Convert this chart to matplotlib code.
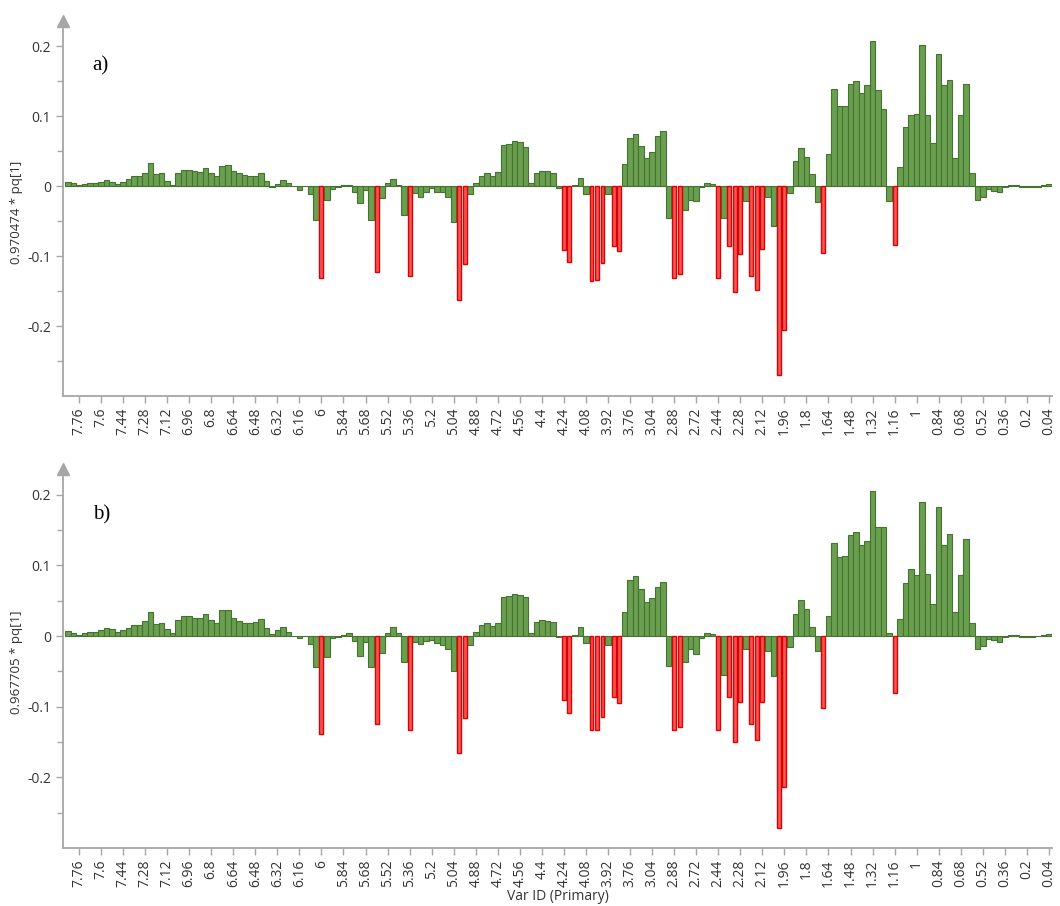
import numpy as np
import matplotlib
matplotlib.use("Agg")
import matplotlib.pyplot as plt
from matplotlib.transforms import offset_copy

# chemical shift of each variable (ppm), two excluded regions in between
ppm = np.concatenate([np.arange(784, 372, -4), [372, 368, 308],
                      np.arange(304, 268, -4), [268, 264, 248],
                      np.arange(244, 0, -4)]) / 100.0

# variables drawn in red (significant)
significant = [6.00, 5.60, 5.36, 5.00, 4.96, 4.24, 4.20, 4.04, 4.00, 3.96,
               3.88, 3.84, 2.88, 2.84, 2.44, 2.36, 2.32, 2.28, 2.20, 2.16,
               2.12, 2.00, 1.96, 1.68, 1.16]

pq_a = [0.006, 0.004, 0.001, 0.003, 0.005, 0.004, 0.006, 0.008, 0.006, 0.003,
        0.006, 0.010, 0.014, 0.015, 0.019, 0.033, 0.017, 0.018, 0.007, 0.001,
        0.019, 0.023, 0.023, 0.022, 0.020, 0.026, 0.018, 0.014, 0.028, 0.030,
        0.022, 0.019, 0.016, 0.014, 0.015, 0.018, 0.007, -0.001, 0.003, 0.008,
        0.004, 0.0005, -0.005, 0.0, -0.012, -0.048, -0.132, -0.020, -0.004, -0.001,
        0.001, 0.002, -0.009, -0.024, -0.005, -0.048, -0.123, -0.017, 0.005, 0.010,
        0.002, -0.042, -0.129, -0.010, -0.015, -0.008, -0.003, -0.009, -0.009, -0.015,
        -0.052, -0.163, -0.112, -0.011, 0.004, 0.015, 0.018, 0.014, 0.020, 0.058,
        0.060, 0.064, 0.063, 0.056, 0.004, 0.019, 0.022, 0.021, 0.018, -0.003,
        -0.092, -0.108, 0.001, 0.011, -0.012, -0.135, -0.134, -0.110, -0.011, -0.086,
        -0.093, 0.031, 0.068, 0.074, 0.057, 0.040, 0.048, 0.071, 0.079, -0.045,
        -0.132, -0.126, -0.034, -0.020, -0.022, -0.002, 0.005, 0.003, -0.131, -0.046,
        -0.085, -0.151, -0.097, -0.022, -0.129, -0.149, -0.090, -0.015, -0.057, -0.270,
        -0.206, -0.010, 0.036, 0.054, 0.041, 0.017, -0.023, -0.095, 0.046, 0.139,
        0.114, 0.114, 0.146, 0.150, 0.133, 0.145, 0.207, 0.137, 0.110, -0.022,
        -0.084, 0.027, 0.084, 0.102, 0.103, 0.202, 0.101, 0.062, 0.188, 0.145,
        0.152, 0.040, 0.101, 0.146, 0.019, -0.020, -0.016, -0.004, -0.007, -0.009,
        -0.001, 0.0015, 0.001, -0.002, -0.002, -0.0015, -0.001, 0.002, 0.003]

pq_b = [0.007, 0.005, 0.0015, 0.004, 0.0065, 0.0065, 0.009, 0.012, 0.010, 0.006,
        0.0085, 0.012, 0.0155, 0.0155, 0.021, 0.034, 0.0175, 0.019, 0.010, 0.004,
        0.023, 0.028, 0.028, 0.026, 0.025, 0.032, 0.023, 0.019, 0.037, 0.037,
        0.026, 0.022, 0.019, 0.018, 0.020, 0.024, 0.011, 0.003, 0.0085, 0.013,
        0.0055, 0.0005, -0.002, -0.0005, -0.011, -0.044, -0.138, -0.029, -0.003, -0.001,
        0.0015, 0.004, -0.0075, -0.028, -0.0085, -0.044, -0.125, -0.024, 0.005, 0.013,
        0.004, -0.037, -0.133, -0.009, -0.011, -0.0075, -0.005, -0.010, -0.012, -0.018,
        -0.050, -0.166, -0.116, -0.012, 0.006, 0.016, 0.018, 0.014, 0.019, 0.056,
        0.0575, 0.060, 0.0585, 0.055, 0.004, 0.020, 0.0225, 0.022, 0.020, -0.0015,
        -0.090, -0.109, 0.002, 0.013, -0.010, -0.1325, -0.133, -0.115, -0.012, -0.086,
        -0.095, 0.034, 0.080, 0.085, 0.0665, 0.0485, 0.054, 0.069, 0.077, -0.043,
        -0.1325, -0.128, -0.037, -0.018, -0.025, -0.003, 0.004, 0.0025, -0.1325, -0.055,
        -0.086, -0.150, -0.093, -0.018, -0.125, -0.147, -0.093, -0.021, -0.057, -0.271,
        -0.214, -0.0155, 0.032, 0.051, 0.039, 0.0135, -0.021, -0.102, 0.029, 0.132,
        0.112, 0.114, 0.143, 0.148, 0.129, 0.135, 0.205, 0.155, 0.154, 0.005,
        -0.081, 0.024, 0.075, 0.095, 0.087, 0.190, 0.088, 0.046, 0.1825, 0.129,
        0.144, 0.0335, 0.086, 0.138, 0.019, -0.018, -0.0135, -0.004, -0.006, -0.0085,
        -0.001, 0.002, 0.0015, -0.0015, -0.0015, -0.001, -0.0005, 0.0015, 0.003]

panels = [("a)", "0.970474 * pq[1]", pq_a), ("b)", "0.967705 * pq[1]", pq_b)]

GREEN = "#6a9f50"
GREEN_EDGE = "#44732f"
RED = "#f05656"
RED_EDGE = "#e00000"
AXIS = "#a6a6a6"
TEXT = "#333333"
FONT = "Open Sans"

fig = plt.figure(figsize=(10.6, 9.06), dpi=100)
rects = [[0.0594, 0.5629, 0.9330, 0.4056], [0.0594, 0.0640, 0.9330, 0.4093]]

x = np.arange(len(ppm))
sig = np.isin(np.round(ppm, 2), np.round(significant, 2))
tick_idx = x[2::4]
tick_lab = ["{:g}".format(round(v, 2)) for v in ppm[2::4]]

for k, (tag, ylab, vals) in enumerate(panels):
    ax = fig.add_axes(rects[k])
    vals = np.array(vals)
    ax.bar(x[~sig], vals[~sig], width=1.0, color=GREEN, edgecolor=GREEN_EDGE,
           linewidth=0.8, zorder=2)
    ax.bar(x[sig], vals[sig], width=0.72, color=RED, edgecolor=RED_EDGE,
           linewidth=1.0, zorder=3)

    ax.set_xlim(-0.9, len(ppm) - 0.45)
    ax.set_ylim(-0.30, 0.225)
    ax.set_yticks([-0.2, -0.1, 0, 0.1, 0.2])
    ax.set_yticklabels(["-0.2", "-0.1", "0", "0.1", "0.2"])
    ax.set_yticks([-0.25, -0.15, -0.05, 0.05, 0.15], minor=True)
    ax.set_xticks(tick_idx)
    ax.set_xticklabels(tick_lab, rotation=90)

    for s in ["top", "right"]:
        ax.spines[s].set_visible(False)
    for s in ["left", "bottom"]:
        ax.spines[s].set_color(AXIS)
        ax.spines[s].set_linewidth(1.3)
    ax.tick_params(axis="both", which="both", colors=AXIS, labelcolor=TEXT,
                   labelsize=10, length=5, width=1)
    ax.tick_params(axis="y", which="minor", length=4)
    for lab in ax.get_xticklabels() + ax.get_yticklabels():
        lab.set_fontfamily(FONT)

    ax.set_ylabel(ylab, fontsize=9.5, color=TEXT, family=FONT, labelpad=3)
    ax.text(0.03, 0.885, tag, transform=ax.transAxes, fontsize=15,
            family="Liberation Serif", color="black")

    # arrow head on top of the y axis
    tr = offset_copy(ax.transAxes, fig=fig, x=0, y=8, units="dots")
    ax.plot([0], [1.0], marker="^", ms=9, color=AXIS, transform=tr,
            clip_on=False)

    if k == 1:
        ax.set_xlabel("Var ID (Primary)", fontsize=10, color=TEXT,
                      family=FONT, labelpad=1)

fig.savefig("out.png", dpi=100)
